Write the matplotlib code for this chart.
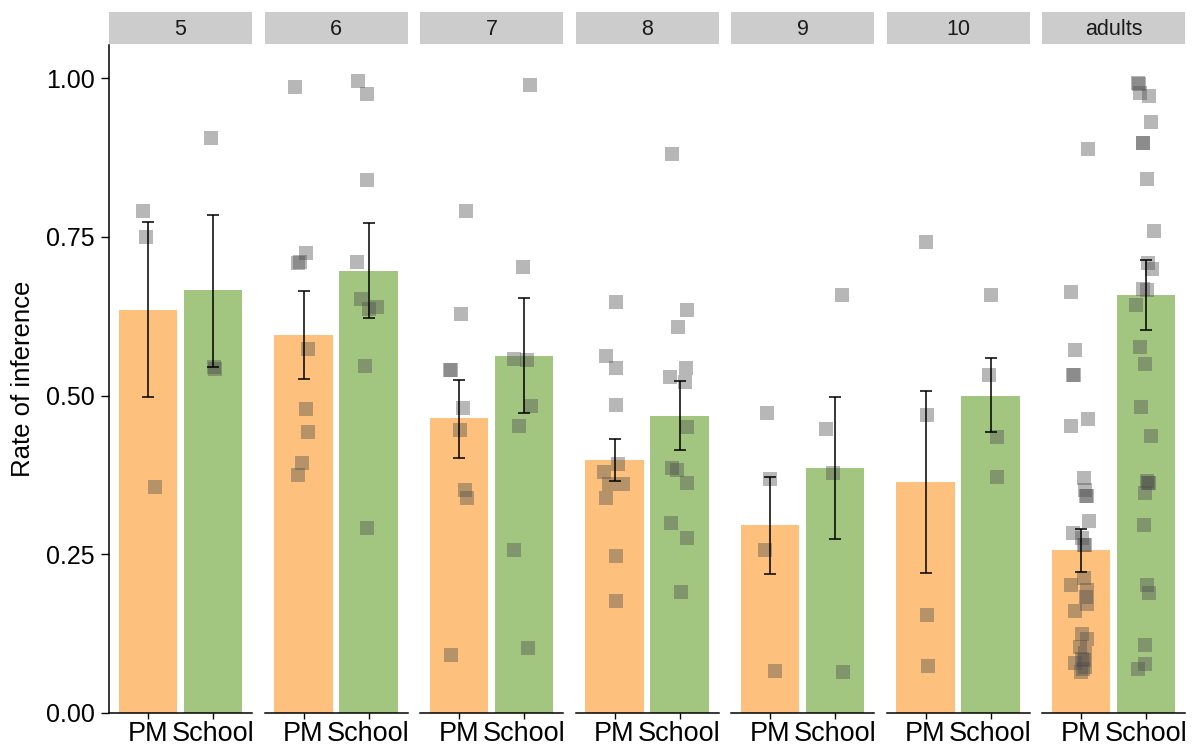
import matplotlib
matplotlib.use("Agg")
import matplotlib.pyplot as plt

plt.rcParams['font.family'] = ['Liberation Sans', 'DejaVu Sans']

# facet groups (age) and the two conditions
groups = ['5', '6', '7', '8', '9', '10', 'adults']
conditions = ['PM', 'School']

# bar means and error bar limits
pm_mean = [0.634, 0.596, 0.465, 0.399, 0.296, 0.364, 0.256]
pm_lo = [0.497, 0.526, 0.402, 0.366, 0.219, 0.221, 0.222]
pm_hi = [0.774, 0.665, 0.525, 0.432, 0.372, 0.507, 0.290]
school_mean = [0.666, 0.696, 0.563, 0.468, 0.386, 0.499, 0.659]
school_lo = [0.545, 0.622, 0.473, 0.414, 0.274, 0.442, 0.603]
school_hi = [0.785, 0.772, 0.654, 0.523, 0.498, 0.559, 0.713]

# individual points (rate per participant) and their horizontal jitter
pm_points = [
    [0.790, 0.749, 0.356],
    [0.986, 0.724, 0.710, 0.709, 0.574, 0.479, 0.443, 0.394, 0.375],
    [0.791, 0.628, 0.540, 0.540, 0.480, 0.446, 0.351, 0.339, 0.091],
    [0.648, 0.562, 0.544, 0.485, 0.392, 0.379, 0.360, 0.360, 0.339, 0.248, 0.176],
    [0.472, 0.369, 0.257, 0.066],
    [0.742, 0.470, 0.155, 0.074],
    [0.889, 0.663, 0.572, 0.532, 0.532, 0.463, 0.452, 0.370, 0.351, 0.341, 0.341,
     0.303, 0.283, 0.275, 0.265, 0.265, 0.212, 0.202, 0.194, 0.183, 0.171, 0.161,
     0.125, 0.116, 0.104, 0.094, 0.083, 0.078, 0.073, 0.065, 0.085, 0.070],
]
pm_jitter = [
    [-0.08, -0.03, 0.10],
    [-0.13, 0.04, -0.05, -0.09, 0.07, 0.04, 0.07, -0.03, -0.08],
    [0.10, 0.03, -0.14, -0.13, 0.06, 0.01, 0.09, 0.12, -0.13],
    [0.03, -0.13, 0.03, 0.03, 0.05, -0.16, -0.09, 0.13, -0.13, 0.02, 0.03],
    [-0.04, 0.0, -0.08, 0.07],
    [0.0, 0.03, 0.02, 0.04],
    [0.10, -0.15, -0.10, -0.12, -0.11, 0.10, -0.15, 0.04, 0.06, 0.09, 0.08,
     0.12, -0.12, 0.01, 0.05, 0.06, 0.05, -0.15, 0.09, 0.08, 0.09, -0.10,
     0.01, 0.09, -0.02, 0.06, 0.04, -0.09, 0.06, 0.0, 0.02, 0.03],
]
school_points = [
    [0.905, 0.545, 0.541],
    [0.995, 0.975, 0.839, 0.711, 0.652, 0.637, 0.639, 0.546, 0.291],
    [0.989, 0.702, 0.557, 0.556, 0.484, 0.452, 0.257, 0.102],
    [0.880, 0.634, 0.608, 0.544, 0.529, 0.522, 0.450, 0.386, 0.382, 0.362, 0.300, 0.275, 0.191],
    [0.659, 0.447, 0.378, 0.065],
    [0.659, 0.532, 0.435, 0.372],
    [0.992, 0.990, 0.976, 0.972, 0.930, 0.897, 0.897, 0.841, 0.759, 0.708, 0.700,
     0.667, 0.666, 0.643, 0.576, 0.550, 0.482, 0.436, 0.362, 0.362, 0.365, 0.346,
     0.296, 0.202, 0.189, 0.107, 0.077, 0.070],
]
school_jitter = [
    [-0.03, 0.01, 0.03],
    [-0.16, -0.03, -0.02, -0.17, -0.11, 0.01, 0.13, -0.05, -0.03],
    [0.09, -0.01, -0.16, 0.04, 0.10, -0.08, -0.16, 0.06],
    [-0.12, 0.11, -0.03, 0.10, -0.15, 0.09, 0.12, -0.12, -0.04, 0.12, -0.13, 0.12, 0.02],
    [0.11, -0.14, -0.03, 0.12],
    [0.0, -0.02, 0.10, 0.10],
    [-0.12, -0.11, -0.10, 0.05, 0.08, -0.05, -0.04, 0.02, 0.13, 0.03, 0.09,
     -0.05, 0.02, -0.15, -0.10, -0.01, -0.07, 0.07, 0.03, 0.04, 0.02, -0.01,
     -0.03, 0.02, 0.05, -0.01, -0.02, -0.12],
]

bar_colors = ['#FDC17D', '#A2C57F']

W, H = 1192, 749
fig = plt.figure(figsize=(W / 100, H / 100), dpi=100)

# panel geometry in pixels
left0, pw, gap = 109, 143, 12.5
pbot, ptop = 713, 45
strip_top, strip_bot = 12, 44

for i, g in enumerate(groups):
    x0 = left0 + i * (pw + gap)
    ax = fig.add_axes([x0 / W, (H - pbot) / H, pw / W, (pbot - ptop) / H])

    means = [pm_mean[i], school_mean[i]]
    los = [pm_lo[i], school_lo[i]]
    his = [pm_hi[i], school_hi[i]]
    ax.bar([1, 2], means, width=0.9, color=bar_colors, zorder=1)

    for pos, vals, jit in [(1, pm_points[i], pm_jitter[i]), (2, school_points[i], school_jitter[i])]:
        xs = [pos + j for j in jit]
        ax.plot(xs, vals, 's', ms=9.5, mew=0, color='#4d4d4d', alpha=0.4, zorder=2)

    yerr = [[m - l for m, l in zip(means, los)], [h - m for m, h in zip(means, his)]]
    ax.errorbar([1, 2], means, yerr=yerr, fmt='none', ecolor='black',
                elinewidth=1.1, capsize=4, capthick=1.1, zorder=3)

    ax.set_xlim(0.4, 2.6)
    ax.set_ylim(0, 1.052)
    ax.set_xticks([1, 2])
    ax.set_xticklabels(conditions, fontsize=19.5)
    ax.tick_params(axis='x', length=4, width=1, pad=2, colors='black')
    for s in ['top', 'right']:
        ax.spines[s].set_visible(False)
    ax.spines['bottom'].set_linewidth(1.1)
    if i == 0:
        ax.set_yticks([0, 0.25, 0.5, 0.75, 1.0])
        ax.set_yticklabels(['0.00', '0.25', '0.50', '0.75', '1.00'], fontsize=18)
        ax.tick_params(axis='y', length=6, width=1, pad=4)
        ax.spines['left'].set_linewidth(1.1)
        ax.set_ylabel('Rate of inference', fontsize=18.5, labelpad=8)
    else:
        ax.spines['left'].set_visible(False)
        ax.set_yticks([])

    # facet strip
    sax = fig.add_axes([x0 / W, (H - strip_bot) / H, pw / W, (strip_bot - strip_top) / H])
    sax.set_facecolor('#CCCCCC')
    sax.set_xticks([])
    sax.set_yticks([])
    for s in sax.spines.values():
        s.set_visible(False)
    sax.text(0.5, 0.45, g, ha='center', va='center', fontsize=15.5, color='#1a1a1a',
             transform=sax.transAxes)

fig.savefig('out.png', dpi=100)
